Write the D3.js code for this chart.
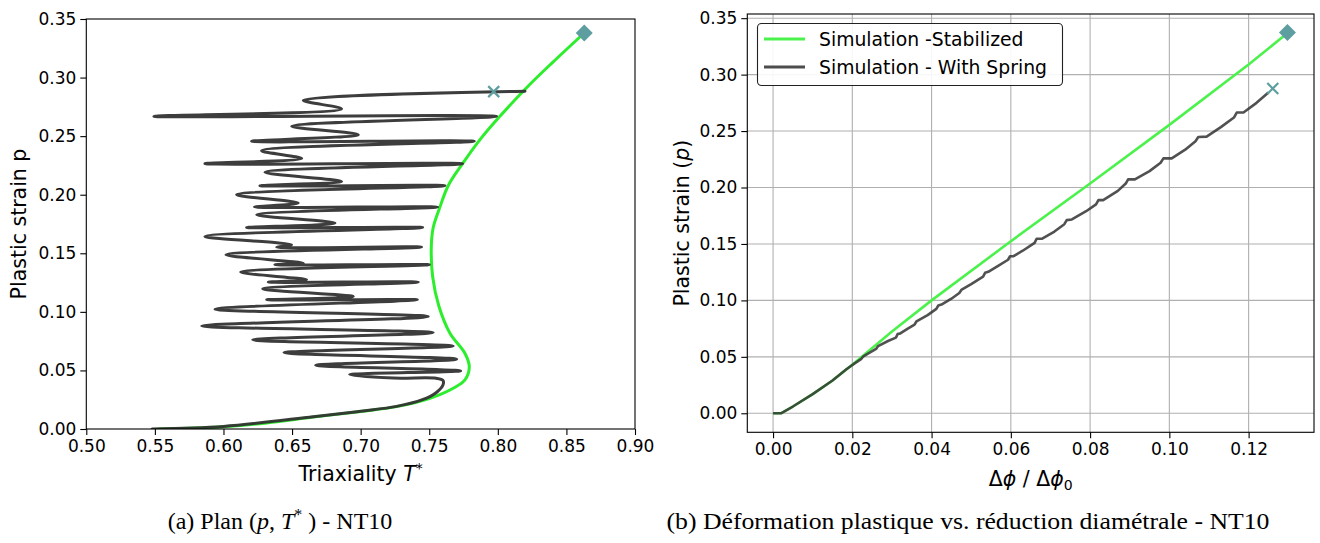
<!DOCTYPE html>
<html>
<head>
<meta charset="utf-8">
<script src="https://cdn.jsdelivr.net/npm/d3@7"></script>
<style>
  html, body { margin: 0; padding: 0; background: #fff; }
  svg { display: block; }
</style>
</head>
<body>
<svg id="chart" width="1320" height="543"></svg>
<script>
// ---------------- DATA ----------------
// Left panel (a): Triaxiality T* vs plastic strain p
const leftXTicks = [0.50, 0.55, 0.60, 0.65, 0.70, 0.75, 0.80, 0.85, 0.90];
const leftYTicks = [0.00, 0.05, 0.10, 0.15, 0.20, 0.25, 0.30, 0.35];

// Stabilized simulation (green): [T*, p]
const leftStabilized = [
  [0.552,0.0],[0.58,0.0008],[0.60,0.002],[0.63,0.005],[0.6655,0.0102],[0.70,0.0150],
  [0.7262,0.0191],[0.7505,0.0262],[0.7675,0.0348],[0.776,0.0419],[0.7792,0.0532],
  [0.776,0.0647],[0.7651,0.0818],[0.7570,0.105],[0.7525,0.130],[0.7515,0.1553],
  [0.7529,0.1720],[0.7578,0.1895],[0.7638,0.2077],[0.7743,0.2265],[0.787,0.2470],
  [0.8015,0.2669],[0.822,0.2926],[0.840,0.3130],[0.862,0.337]
];

// Simulation with spring (dark): [T*, p]
const leftSpring = [
  [0.548,0.0],[0.60,0.0022],[0.6655,0.0105],[0.70,0.0152],[0.7262,0.0193],[0.745,0.025],
  [0.755,0.031],[0.760,0.0375],[0.760,0.0415],[0.755,0.0433],[0.724,0.0435],
  [0.692,0.0465],[0.7729,0.0496],[0.6672,0.0544],[0.770,0.0596],[0.6441,0.0652],
  [0.7675,0.0709],[0.6213,0.0761],[0.7529,0.0823],[0.5841,0.0880],[0.7493,0.0960],
  [0.5938,0.1023],[0.7413,0.1103],[0.6315,0.1103],[0.6946,0.1131],[0.6286,0.1197],
  [0.742,0.1254],[0.6327,0.1254],[0.6606,0.1274],[0.6125,0.1339],[0.750,0.1402],
  [0.6375,0.1402],[0.6582,0.1416],[0.6018,0.1487],[0.7444,0.1553],[0.6388,0.1553],
  [0.6497,0.1573],[0.5865,0.1644],[0.7452,0.1720],[0.6169,0.1720],[0.6813,0.1758],
  [0.6242,0.1829],[0.7561,0.1895],[0.6225,0.1895],[0.6545,0.1929],[0.6096,0.2000],
  [0.7614,0.2077],[0.6266,0.2077],[0.6861,0.2114],[0.6302,0.2191],[0.7743,0.2265],
  [0.5865,0.2265],[0.6570,0.2310],[0.6278,0.2376],[0.7828,0.2456],[0.6205,0.2456],
  [0.6983,0.2513],[0.6497,0.2584],[0.7991,0.2669],[0.5493,0.2669],[0.6861,0.2733],
  [0.6582,0.2806],[0.8198,0.2883]
];
const leftEndStabilized = [0.863, 0.338];
const leftEndSpring = [0.797, 0.288];

// Right panel (b): diametral reduction vs plastic strain
const rightXTicks = [0.00, 0.02, 0.04, 0.06, 0.08, 0.10, 0.12];
const rightYTicks = [0.00, 0.05, 0.10, 0.15, 0.20, 0.25, 0.30, 0.35];

const rightStabilized = [
  [0,0],[0.002,0],[0.005,0.006],[0.01,0.017],[0.015,0.029],[0.02,0.043],[0.03,0.0725],
  [0.04,0.100],[0.06,0.1524],[0.08,0.2035],[0.10,0.2555],[0.12,0.309],[0.1292,0.335]
];
const rightSpring = [
  [0,0],[0.002,0],[0.005,0.006],[0.01,0.017],[0.015,0.029],[0.0185,0.039],[0.0205,0.044],
  [0.0222,0.048],[0.0228,0.0505],[0.0245,0.054],[0.026,0.057],[0.0265,0.0595],[0.029,0.064],
  [0.031,0.067],[0.0315,0.0705],[0.032,0.0705],[0.034,0.075],[0.0357,0.0785],[0.0362,0.0815],
  [0.039,0.087],[0.0412,0.0925],[0.0417,0.0955],[0.0425,0.0963],[0.045,0.1015],[0.047,0.1065],
  [0.0476,0.1096],[0.050,0.1145],[0.053,0.121],[0.0535,0.1244],[0.0543,0.1253],[0.057,0.131],
  [0.0593,0.136],[0.0598,0.1391],[0.0606,0.1391],[0.063,0.144],[0.066,0.151],[0.0665,0.1546],
  [0.0678,0.1546],[0.071,0.161],[0.0735,0.1675],[0.0741,0.1711],[0.0754,0.1717],[0.079,0.179],
  [0.0815,0.185],[0.0821,0.1888],[0.0833,0.1888],[0.087,0.197],[0.089,0.2035],[0.0896,0.2072],
  [0.0913,0.2072],[0.095,0.2145],[0.0978,0.222],[0.0985,0.2258],[0.1006,0.2258],[0.104,0.2335],
  [0.1066,0.241],[0.1073,0.2447],[0.1094,0.2451],[0.113,0.2535],[0.1163,0.262],[0.117,0.2664],
  [0.1187,0.2664],[0.122,0.2750],[0.1250,0.2841]
];
const rightEndStabilized = [0.1298, 0.3374];
const rightEndSpring = [0.1261, 0.2877];

const legendLabels = ["Simulation -Stabilized", "Simulation - With Spring"];

// ---------------- DRAW ----------------
const SANS = "DejaVu Sans, sans-serif";
const SERIF = "Liberation Serif, serif";
const svg = d3.select("#chart");
svg.append("rect").attr("width", 1320).attr("height", 543).attr("fill", "#fff");

const GREEN_L = "#2cee2c";
const GREEN_R = "#4cf24c";
const DARK = "#333333";
const MARK = "#5f9ea0";
const TICK_FS = 17;
const LABEL_FS = 20.5;
const LEGEND_FS = 18.8;

function drawAxes(g, x, y, xTicks, yTicks, grid) {
  const [x0, x1] = x.range();
  const [y0, y1] = y.range();
  if (grid) {
    g.append("g").selectAll("line").data(xTicks).join("line")
      .attr("x1", d => x(d)).attr("x2", d => x(d)).attr("y1", y0).attr("y2", y1)
      .attr("stroke", "#b0b0b0").attr("stroke-width", 1.1);
    g.append("g").selectAll("line").data(yTicks).join("line")
      .attr("y1", d => y(d)).attr("y2", d => y(d)).attr("x1", x0).attr("x2", x1)
      .attr("stroke", "#b0b0b0").attr("stroke-width", 1.1);
  }
  const ax = g.append("g").attr("transform", `translate(0,${y0})`)
    .call(d3.axisBottom(x).tickValues(xTicks).tickFormat(d3.format(".2f"))
      .tickSize(6).tickSizeOuter(0).tickPadding(5));
  const ay = g.append("g").attr("transform", `translate(${x0},0)`)
    .call(d3.axisLeft(y).tickValues(yTicks).tickFormat(d3.format(".2f"))
      .tickSize(6).tickSizeOuter(0).tickPadding(4));
  [ax, ay].forEach(a => {
    a.select(".domain").remove();
    a.selectAll("line").attr("stroke", "#000").attr("stroke-width", 1.1);
    a.selectAll("text").attr("font-size", TICK_FS).attr("font-family", SANS).attr("fill", "#000");
  });
  return g;
}
function frame(g, x, y) {
  const [x0, x1] = x.range();
  const [y0, y1] = y.range();
  g.append("rect").attr("x", x0).attr("y", y1).attr("width", x1 - x0).attr("height", y0 - y1)
    .attr("fill", "none").attr("stroke", "#000").attr("stroke-width", 1.1);
}
function diamond(g, cx, cy, r) {
  g.append("path").attr("d", `M${cx},${cy - r}L${cx + r},${cy}L${cx},${cy + r}L${cx - r},${cy}Z`)
    .attr("fill", MARK);
}
function cross(g, cx, cy, r) {
  g.append("path").attr("d", `M${cx - r},${cy - r}L${cx + r},${cy + r}M${cx - r},${cy + r}L${cx + r},${cy - r}`)
    .attr("stroke", MARK).attr("stroke-width", 2.2).attr("fill", "none");
}

// ----- Left panel -----
const xL = d3.scaleLinear().domain([0.5, 0.9]).range([86.3, 635]);
const yL = d3.scaleLinear().domain([0, 0.35]).range([429, 19]);
const gL = svg.append("g");
drawAxes(gL, xL, yL, leftXTicks, leftYTicks, false);

const clipL = svg.append("clipPath").attr("id", "clipL");
clipL.append("rect").attr("x", 86.3).attr("y", 0).attr("width", 560).attr("height", 429);

const lineL = d3.line().x(d => xL(d[0])).y(d => yL(d[1])).curve(d3.curveCatmullRom.alpha(0.5));
gL.append("path").datum(leftStabilized).attr("d", lineL)
  .attr("fill", "none").attr("stroke", GREEN_L).attr("stroke-width", 3).attr("clip-path", "url(#clipL)");
gL.append("path").datum(leftSpring).attr("d", lineL)
  .attr("fill", "none").attr("stroke", DARK).attr("stroke-width", 3).attr("stroke-opacity", 0.95)
  .attr("stroke-linejoin", "round").attr("stroke-linecap", "round").attr("clip-path", "url(#clipL)");
frame(gL, xL, yL);
diamond(gL, xL(leftEndStabilized[0]), yL(leftEndStabilized[1]), 8.5);
cross(gL, xL(leftEndSpring[0]), yL(leftEndSpring[1]), 5.5);

// Left labels
const xlabL = gL.append("text").attr("x", (86.3 + 635) / 2).attr("y", 481)
  .attr("text-anchor", "middle").attr("font-size", LABEL_FS).attr("font-family", SANS);
xlabL.append("tspan").text("Triaxiality ");
xlabL.append("tspan").attr("font-style", "italic").text("T");
xlabL.append("tspan").attr("dy", -8).attr("font-size", 14).text("*");
gL.append("text").attr("transform", `translate(26,${(19 + 429) / 2}) rotate(-90)`)
  .attr("text-anchor", "middle").attr("font-size", LABEL_FS).attr("font-family", SANS)
  .text("Plastic strain p");

// ----- Right panel -----
const xR = d3.scaleLinear().domain([-0.0065, 0.1365]).range([747.3, 1314]);
const yR = d3.scaleLinear().domain([-0.01685, 0.3537]).range([432.3, 14]);
const gR = svg.append("g");
drawAxes(gR, xR, yR, rightXTicks, rightYTicks, true);

const lineR = d3.line().x(d => xR(d[0])).y(d => yR(d[1]));
gR.append("path").datum(rightStabilized).attr("d", lineR)
  .attr("fill", "none").attr("stroke", GREEN_R).attr("stroke-width", 2.6);
gR.append("path").datum(rightSpring).attr("d", lineR)
  .attr("fill", "none").attr("stroke", DARK).attr("stroke-opacity", 0.85).attr("stroke-width", 2.6)
  .attr("stroke-linejoin", "round");
frame(gR, xR, yR);
diamond(gR, xR(rightEndStabilized[0]), yR(rightEndStabilized[1]), 8.5);
cross(gR, xR(rightEndSpring[0]), yR(rightEndSpring[1]), 5.5);

// Legend
const lg = gR.append("g");
lg.append("rect").attr("x", 757.5).attr("y", 23.5).attr("width", 305).attr("height", 62).attr("rx", 4)
  .attr("fill", "#fff").attr("fill-opacity", 0.9).attr("stroke", "#222").attr("stroke-width", 1.1);
const legColors = [GREEN_R, "#4d4d4d"];
legendLabels.forEach((t, i) => {
  const yy = 39 + i * 28;
  lg.append("line").attr("x1", 764).attr("x2", 805).attr("y1", yy).attr("y2", yy)
    .attr("stroke", legColors[i]).attr("stroke-width", 3);
  lg.append("text").attr("x", 819).attr("y", yy + 6.5).attr("font-size", LEGEND_FS)
    .attr("font-family", SANS).text(t);
});

// Right labels
const xlabR = gR.append("text").attr("x", (747.3 + 1314) / 2).attr("y", 486)
  .attr("text-anchor", "middle").attr("font-size", LABEL_FS).attr("font-family", SANS);
xlabR.append("tspan").text("Δ");
xlabR.append("tspan").attr("font-style", "italic").text("ϕ");
xlabR.append("tspan").text(" / Δ");
xlabR.append("tspan").attr("font-style", "italic").text("ϕ");
xlabR.append("tspan").attr("dy", 4).attr("font-size", 14).text("0");
const ylabR = gR.append("text").attr("transform", `translate(689,${(14 + 432.3) / 2}) rotate(-90)`)
  .attr("text-anchor", "middle").attr("font-size", LABEL_FS).attr("font-family", SANS);
ylabR.append("tspan").text("Plastic strain (");
ylabR.append("tspan").attr("font-style", "italic").text("p");
ylabR.append("tspan").text(")");

// Captions
const CAP_FS = 24;
const capA = svg.append("text").attr("x", 280).attr("y", 529).attr("text-anchor", "middle")
  .attr("font-family", SERIF).attr("font-size", CAP_FS);
capA.append("tspan").text("(a) Plan (");
capA.append("tspan").attr("font-style", "italic").text("p");
capA.append("tspan").text(", ");
capA.append("tspan").attr("font-style", "italic").text("T");
capA.append("tspan").attr("dy", -9).attr("font-size", 16).text("*");
capA.append("tspan").attr("dy", 9).text(" ) - NT10");
svg.append("text").attr("x", 968).attr("y", 529).attr("text-anchor", "middle")
  .attr("font-family", SERIF).attr("font-size", CAP_FS)
  .attr("textLength", 603).attr("lengthAdjust", "spacingAndGlyphs")
  .text("(b) Déformation plastique vs. réduction diamétrale - NT10");
</script>
</body>
</html>
